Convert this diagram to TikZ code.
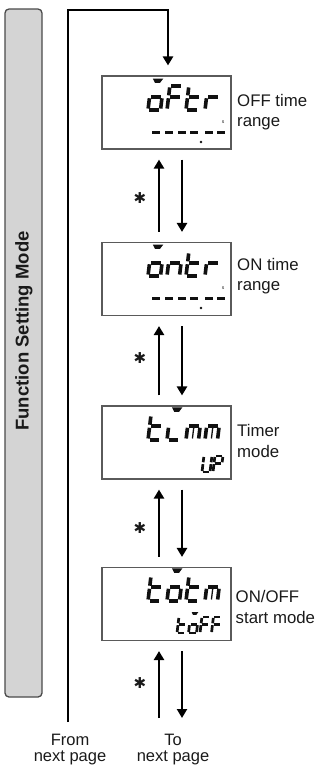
\documentclass[tikz,border=0pt]{standalone}
\usepackage{fontspec}
\setmainfont{Liberation Sans}
\newfontfamily\symfont{DejaVu Sans}
\usetikzlibrary{arrows.meta}
\definecolor{barfill}{HTML}{D4D4D4}
\definecolor{barline}{HTML}{4A4A4A}
\definecolor{boxline}{HTML}{5A5A5A}
\definecolor{lcd}{HTML}{111111}
\definecolor{ink}{HTML}{1A1A1A}

\newcommand\sgA{\draw (\gG,-\gH) -- (\gW-\gG,-\gH);}
\newcommand\sgB{\draw (\gW,-\gH+\gG) -- (\gW,\gM-\gG);}
\newcommand\sgC{\draw (\gW,\gM+\gG) -- (\gW,-\gG);}
\newcommand\sgD{\draw (\gG,0) -- (\gW-\gG,0);}
\newcommand\sgE{\draw (0,\gM+\gG) -- (0,-\gG);}
\newcommand\sgF{\draw (0,-\gH+\gG) -- (0,\gM-\gG);}
\newcommand\sgG{\draw (\gG,\gM) -- (\gW-\gG,\gM);}
\newcommand\sgM{\draw[line width=0.6\pgflinewidth] (0.5*\gW,\gM+\gG) -- (0.5*\gW,-\gG);}
\newcommand\sgO{\fill (0.08*\gW,-1.31*\gH) -- (0.92*\gW,-1.31*\gH) -- (0.7*\gW,-1.13*\gH) -- (0.3*\gW,-1.13*\gH) -- cycle;}

\newcommand\glyph[6]{%
  \begin{scope}[shift={(#1,#2)},xslant=0.12,line width=#5pt,color=lcd,line cap=butt]
    \def\gW{#3}\def\gH{#4}%
    \pgfmathsetmacro\gM{-0.55*#4}%
    \pgfmathsetmacro\gG{0.06*#4}%
    \foreach \s in {#6}{\csname sg\s\endcsname}%
  \end{scope}}

\begin{document}
\begin{tikzpicture}[x=1pt,y=-1pt,
  bar/.style={draw=barline,fill=barfill,line width=1.3pt,rounded corners=4pt},
  lcdbox/.style={draw=boxline,line width=1.1pt,minimum width=129pt,minimum height=73pt,inner sep=0pt},
  arr/.style={line width=2.8pt,-{Triangle[width=10pt,length=9pt]}},
  lbl/.style={anchor=west,align=left,inner sep=0pt,font=\fontsize{16.8}{20.5}\selectfont,text=ink},
  foot/.style={align=center,inner sep=0pt,font=\fontsize{16.5}{16}\selectfont,text=ink},
  star/.style={inner sep=0pt,font=\symfont\fontsize{15}{15}\selectfont,text=ink},
  smark/.style={inner sep=0pt,font=\fontsize{5}{5}\selectfont,text=lcd}]
\useasboundingbox (0,0) rectangle (322,769);

% side bar
\draw[bar] (5,9) rectangle (42,697);
\node[rotate=90,inner sep=0pt,font=\bfseries\fontsize{18.5}{18.5}\selectfont,text=ink] (title) at (24,331) {Function Setting Mode};

% boxes
\node[lcdbox] (b1) at (166.5,112.5) {};
\node[lcdbox] (b2) at (166.5,279) {};
\node[lcdbox] (b3) at (166.5,442.5) {};
\node[lcdbox] (b4) at (166.5,604) {};

% box 1: oFtr / -----.--
\glyph{148}{110}{12.5}{24}{3.6}{O,C,D,E,G}
\glyph{167}{110}{12.5}{24}{3.6}{A,F,E,G}
\glyph{186}{110}{12.5}{24}{3.6}{F,E,D,G}
\glyph{205}{110}{12.5}{24}{3.6}{E,G}
\foreach \cx in {150.2,163.2,176.2,188.2,203.2,215.2}{\glyph{\cx}{142}{9.5}{17}{3}{G}}
\fill[lcd] (201,142) circle (1.4);
\node[smark] (s1) at (223,122) {s};

% box 2: ontr / -----.--
\glyph{148}{276}{12.5}{24}{3.6}{O,C,D,E,G}
\glyph{167}{276}{12.5}{24}{3.6}{E,G,C}
\glyph{186}{276}{12.5}{24}{3.6}{F,E,D,G}
\glyph{205}{276}{12.5}{24}{3.6}{E,G}
\foreach \cx in {150.2,163.2,176.2,188.2,203.2,215.2}{\glyph{\cx}{308}{9.5}{17}{3}{G}}
\fill[lcd] (201,308) circle (1.4);
\node[smark] (s2) at (223,288) {s};

% box 3: timm / UP
\glyph{148}{440}{12.5}{25}{3.6}{F,E,D,G}
\glyph{167}{440}{12.5}{25}{3.6}{O,E,D}
\glyph{186}{440}{12.5}{25}{3.6}{E,G,C,M}
\glyph{205}{440}{12.5}{25}{3.6}{E,G,C,M}
\glyph{202}{472}{8}{16}{2.7}{B,C,D,E,F}
\glyph{213}{472}{8}{16}{2.7}{A,B,F,E,G}

% box 4: totm / toFF
\glyph{148}{601}{12.5}{25}{3.6}{F,E,D,G}
\glyph{167}{601}{12.5}{25}{3.6}{O,C,D,E,G}
\glyph{186}{601}{12.5}{25}{3.6}{F,E,D,G}
\glyph{205}{601}{12.5}{25}{3.6}{E,G,C,M}
\glyph{177}{633}{8}{16}{2.7}{F,E,D,G}
\glyph{188.5}{633}{8}{16}{2.7}{O,C,D,E,G}
\glyph{200}{633}{8}{16}{2.7}{A,F,E,G}
\glyph{211.5}{633}{8}{16}{2.7}{A,F,E,G}

% labels
\node[lbl] (l1) at (237,112) {OFF time\\range};
\node[lbl] (l2) at (237,276) {ON time\\range};
\node[lbl] (l3) at (237,441) {Timer\\mode};
\node[lbl] (l4) at (235.5,607) {ON/OFF\\start mode};

% frame line
\coordinate (fromS) at (68,722);
\coordinate (tl) at (68,10);
\coordinate (tr) at (168,10);
\draw[arr] (fromS) -- (tl) -- (tr) -- ([xshift=1.5pt,yshift=10pt]b1.north);

% arrows between boxes
\draw[arr] ([xshift=-7.5pt,yshift=10pt]b2.north) -- ([xshift=-7.5pt,yshift=-10pt]b1.south);
\draw[arr] ([xshift=15.5pt,yshift=-10pt]b1.south) -- ([xshift=15.5pt,yshift=10pt]b2.north);
\draw[arr] ([xshift=-7.5pt,yshift=10pt]b3.north) -- ([xshift=-7.5pt,yshift=-10pt]b2.south);
\draw[arr] ([xshift=15.5pt,yshift=-10pt]b2.south) -- ([xshift=15.5pt,yshift=10pt]b3.north);
\draw[arr] ([xshift=-7.5pt,yshift=10pt]b4.north) -- ([xshift=-7.5pt,yshift=-10pt]b3.south);
\draw[arr] ([xshift=15.5pt,yshift=-10pt]b3.south) -- ([xshift=15.5pt,yshift=10pt]b4.north);
\coordinate (upS) at (159,718);
\coordinate (dnE) at (182,718);
\draw[arr] (upS) -- ([xshift=-7.5pt,yshift=-10pt]b4.south);
\draw[arr] ([xshift=15.5pt,yshift=-10pt]b4.south) -- (dnE);

% stars
\node[star] (st1) at (140,198) {✱};
\node[star] (st2) at (140,358) {✱};
\node[star] (st3) at (140,528) {✱};
\node[star] (st4) at (140,683) {✱};

% footer
\node[foot] (from) at (70,750) {From\\next page};
\node[foot] (to) at (173,750) {To\\next page};
\end{tikzpicture}
\end{document}
